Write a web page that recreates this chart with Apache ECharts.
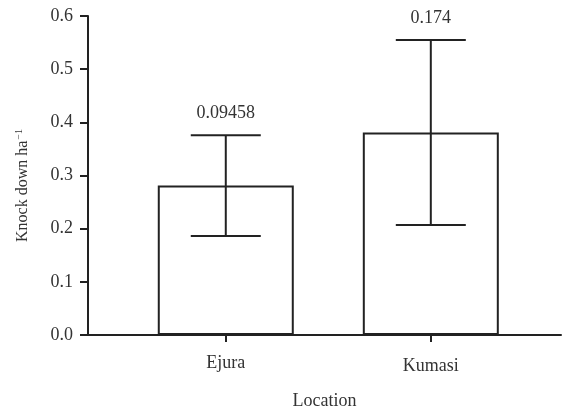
<!DOCTYPE html>
<html>
<head>
<meta charset="utf-8">
<script src="https://cdn.jsdelivr.net/npm/echarts@6/dist/echarts.min.js"></script>
<style>html,body{margin:0;padding:0;background:#fff;}#c{width:563px;height:408px;}</style>
</head>
<body>
<div id="c"></div>
<script>
const categories = ['Ejura', 'Kumasi'];
const means = [0.281, 0.381];
const errors = [0.09458, 0.174];
const errorLabels = ['0.09458', '0.174'];
const yMin = 0, yMax = 0.6, yStep = 0.1;

const FONT = '"Liberation Serif", "Times New Roman", serif';
const TXT = '#333';
const LINE = '#222';

const chart = echarts.init(document.getElementById('c'), null, {renderer: 'canvas'});
const catIdx = categories.map((_, i) => i);

chart.setOption({
  animation: false,
  backgroundColor: '#fff',
  grid: {left: 88, right: 2, top: 16, bottom: 73, containLabel: false, outerBoundsMode: 'none'},
  xAxis: {
    type: 'value', min: -0.672, max: 1.635,
    splitLine: {show: false},
    axisLine: {show: true, onZero: false, lineStyle: {color: LINE, width: 2}},
    axisTick: {show: true, customValues: catIdx, length: 7, lineStyle: {color: LINE, width: 2}},
    axisLabel: {
      customValues: catIdx, margin: 19,
      formatter: v => (v === 1 ? '{b|' : '{a|') + categories[Math.round(v)] + '}',
      rich: {
        a: {fontFamily: FONT, fontSize: 18, color: TXT},
        b: {fontFamily: FONT, fontSize: 18, color: TXT, padding: [3, 0, 0, 0]}
      }
    },
    name: 'Location', nameLocation: 'middle', nameGap: 57,
    nameTextStyle: {fontFamily: FONT, fontSize: 18, color: TXT}
  },
  yAxis: {
    type: 'value', min: yMin, max: yMax, interval: yStep,
    splitLine: {show: false},
    axisLine: {show: true, onZero: false, lineStyle: {color: LINE, width: 2}},
    axisTick: {show: true, length: 8, lineStyle: {color: LINE, width: 2}},
    axisLabel: {fontFamily: FONT, fontSize: 18, color: TXT, margin: 15, formatter: v => v.toFixed(1)},
    name: 'Knock down ha{s|−1}', nameLocation: 'middle', nameGap: 56,
    nameTextStyle: {
      fontFamily: FONT, fontSize: 16, color: TXT, padding: [0, 20, 0, 0],
      rich: {s: {fontFamily: FONT, fontSize: 10, color: TXT, verticalAlign: 'top', padding: [0, 0, 8, 1]}}
    }
  },
  series: [
    {
      type: 'bar',
      data: means.map((m, i) => [i, m]),
      barWidth: 136,
      itemStyle: {color: '#fff', borderColor: LINE, borderWidth: 2}
    },
    {
      type: 'custom',
      data: means.map((m, i) => [i, m - errors[i], m + errors[i]]),
      renderItem: function (params, api) {
        const x = api.value(0);
        const lo = api.coord([x, api.value(1)]);
        const hi = api.coord([x, api.value(2)]);
        const hw = 35;
        const st = {stroke: LINE, lineWidth: 2};
        return {
          type: 'group',
          children: [
            {type: 'line', shape: {x1: lo[0], y1: lo[1], x2: hi[0], y2: hi[1]}, style: st},
            {type: 'line', shape: {x1: lo[0] - hw, y1: lo[1], x2: lo[0] + hw, y2: lo[1]}, style: st},
            {type: 'line', shape: {x1: hi[0] - hw, y1: hi[1], x2: hi[0] + hw, y2: hi[1]}, style: st},
            {type: 'text', style: {
              text: errorLabels[params.dataIndex], x: hi[0], y: hi[1] - 22,
              align: 'center', verticalAlign: 'middle',
              font: '18px ' + FONT, fill: TXT
            }}
          ]
        };
      },
      z: 5
    }
  ]
});
</script>
</body>
</html>
